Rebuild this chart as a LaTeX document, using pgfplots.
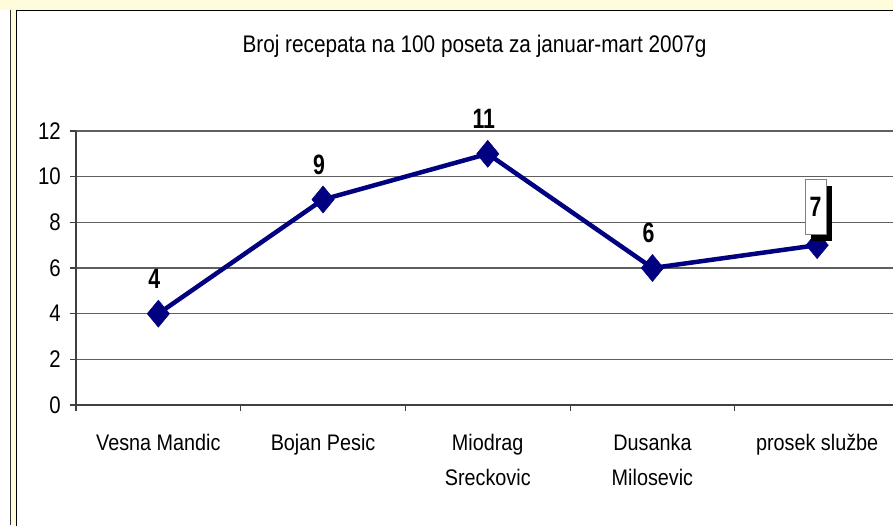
\documentclass[border=0pt]{standalone}
\usepackage{pgfplots}
\pgfplotsset{compat=1.18}
\usepackage{fontspec}
\setmainfont[FakeStretch=0.88]{Liberation Sans}
\newfontfamily\titlefont[FakeStretch=0.865]{Liberation Sans}
\newfontfamily\lblfont[FakeStretch=0.76]{Liberation Sans}
\newfontfamily\tickfont[FakeStretch=0.85]{Liberation Sans}
\usetikzlibrary{shadows}
\definecolor{bgyellow}{RGB}{255,252,220}
\definecolor{navyline}{RGB}{0,0,128}
\definecolor{gridgray}{RGB}{95,95,95}
\begin{document}
\begin{tikzpicture}[x=1pt,y=1pt]
\path[use as bounding box] (0,0) rectangle (893,525);
\clip (0,0) rectangle (893,525);
\fill[bgyellow] (0,0) rectangle (893,525);
\fill[white] (0,0) rectangle (10.5,515);
\draw[line width=1.5pt, black!80] (10.5,0) -- (10.5,515);
\draw[line width=1.5pt, black, fill=white] (16.5,-5) rectangle (910,514.5);
\node[anchor=base, font=\titlefont\fontsize{24}{28}\selectfont, inner sep=0pt] at (474.5,472.3) {Broj recepata na 100 poseta za januar-mart 2007g};
\begin{axis}[
  at={(76pt,120pt)}, anchor=south west, scale only axis,
  width=823.5pt, height=274pt,
  xmin=-0.5, xmax=4.5, ymin=0, ymax=12,
  ytick={0,2,...,12},
  xtick={0,1,2,3,4},
  xticklabels={Vesna Mandic, Bojan Pesic, {Miodrag\\Sreckovic}, {Dusanka\\Milosevic}, prosek službe},
  minor xtick={-0.5,0.5,...,4.5},
  axis lines*=left,
  axis line style={line width=1.2pt, black!75},
  ymajorgrids,
  grid style={gridgray, line width=1.2pt},
  tick align=outside,
  major tick length=6pt, minor tick length=6pt,
  major x tick style={draw=none},
  minor tick style={line width=1.2pt, black!75},
  major tick style={line width=1.2pt, black!75},
  /pgf/number format/assume math mode=true,
  yticklabel style={font=\tickfont\fontsize{24}{28}\selectfont, inner sep=0pt, anchor=east, xshift=-9pt},
  xticklabel style={font=\fontsize{22.5}{35}\selectfont, align=center, anchor=north, inner sep=0pt, yshift=-23pt},
  clip=false,
]
\addplot[navyline, line width=4.5pt, mark=diamond*, mark size=13.5pt,
  mark options={solid, fill=navyline, line width=0.5pt, xscale=1.1}]
  coordinates {(0,4) (1,9) (2,11) (3,6) (4,7)};
\addplot[draw=none, mark=none, nodes near coords, point meta=explicit symbolic,
  every node near coord/.append style={font=\lblfont\bfseries\fontsize{28}{32}\selectfont, anchor=base, yshift=25pt, xshift=-4pt, inner sep=0pt}]
  coordinates {(0,4) [4] (1,9) [9] (2,11) [11] (3,6) [6]};
\addplot[draw=none, mark=none, nodes near coords, point meta=explicit symbolic,
  every node near coord/.append style={font=\lblfont\bfseries\fontsize{28}{32}\selectfont, anchor=center, yshift=38.5pt, xshift=-1.5pt,
  draw=gray, fill=white, minimum width=21pt, minimum height=55pt, inner sep=0pt,
  drop shadow={shadow xshift=6pt, shadow yshift=-7pt, fill=black, opacity=1}}]
  coordinates {(4,7) [7]};
\end{axis}
\end{tikzpicture}
\end{document}
